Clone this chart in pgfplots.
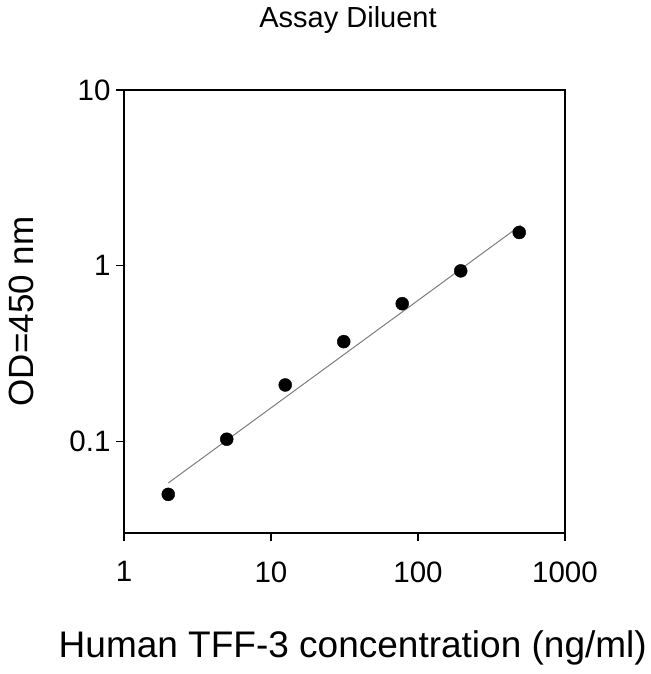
\documentclass[border=0pt]{standalone}
\usepackage{fontspec}
\setmainfont{Liberation Sans}
\usepackage{pgfplots}
\pgfplotsset{compat=1.18}
\definecolor{fitgray}{RGB}{125,125,125}
\begin{document}
\begin{tikzpicture}[x=1pt,y=1pt]
\path[use as bounding box] (-124,-141) rectangle (526,533);
\begin{axis}[
  at={(0,0)}, anchor=south west,
  scale only axis, width=441pt, height=443pt,
  xmode=log, ymode=log,
  xmin=1, xmax=1000, ymin=0.03, ymax=10,
  xtick={1,10,100,1000}, xticklabels={1,10,100,1000},
  ytick={0.1,1,10}, yticklabels={0.1,1,10},
  xminorticks=false, yminorticks=false,
  tick align=outside, major tick length=8pt,
  xtick pos=bottom, ytick pos=left,
  axis line style={line width=1.4pt},
  every tick/.style={black, line width=1.2pt},
  ticklabel style={font=\fontsize{29.5}{29.5}\selectfont},
  xticklabel style={yshift=-17pt},
  yticklabel style={xshift=-2pt},
  title={Assay Diluent},
  title style={at={(axis description cs:0.508,1.127)}, anchor=base, font=\fontsize{29}{29}\selectfont},
  xlabel={Human TFF-3 concentration (ng/ml)},
  xlabel style={at={(axis description cs:-0.156,-0.282)}, anchor=base west, font=\fontsize{37}{37}\selectfont},
  ylabel={OD=450 nm},
  ylabel style={at={(axis description cs:-0.206,0.50)}, anchor=base, rotate=0, font=\fontsize{35}{35}\selectfont},
]
\addplot[fitgray, line width=1pt] coordinates {(2,0.0578) (500,1.697)};
\addplot[only marks, mark=*, mark size=6.5pt, black] coordinates {
  (2,0.0498) (5,0.1026) (12.5,0.209) (31.25,0.369) (78.1,0.607) (195.3,0.933) (488.3,1.544)
};
\end{axis}
\end{tikzpicture}
\end{document}
